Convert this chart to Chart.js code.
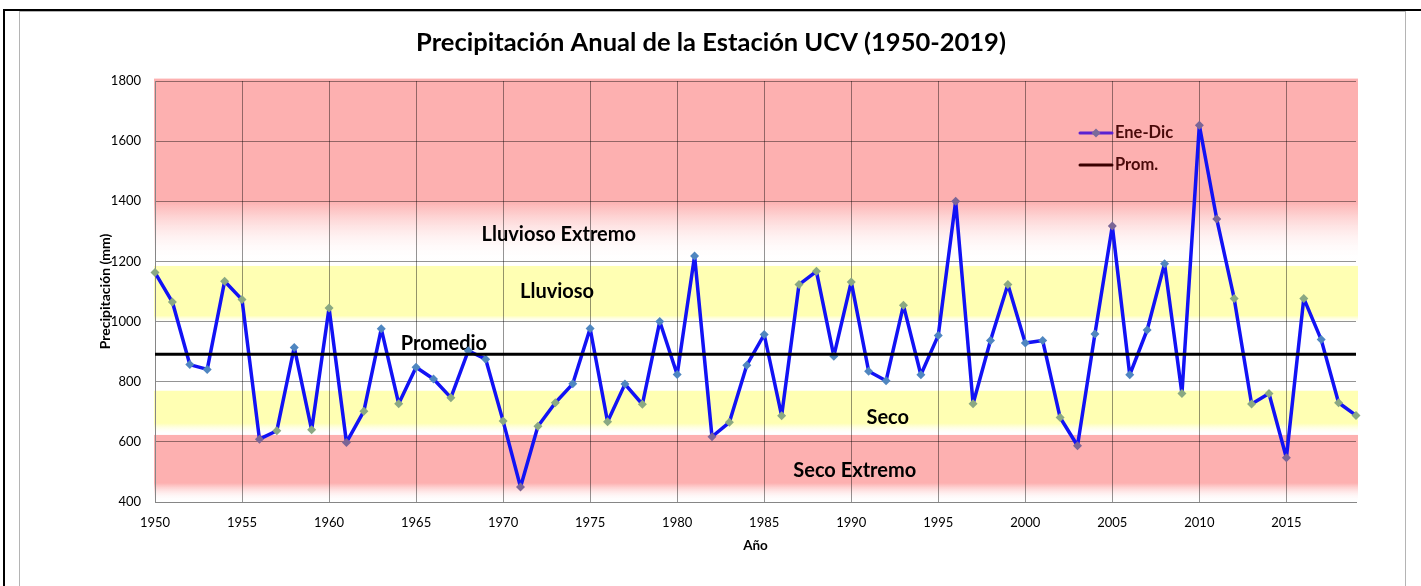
<!DOCTYPE html>
<html>
<head>
<meta charset="utf-8">
<script src="https://cdn.jsdelivr.net/npm/chart.js@4.4.0/dist/chart.umd.min.js"></script>
<style>
  html, body { margin:0; padding:0; background:#fff; width:1421px; height:586px; overflow:hidden; }
  #outer { position:absolute; left:3px; top:9px; right:-10px; bottom:-10px; border-top:2px solid #000; border-left:2px solid #000; }
  #frame { position:absolute; left:19px; top:11px; width:1385px; bottom:-10px; border:1px solid #b4b4b4; }
  #chart { position:absolute; left:0; top:0; }
</style>
</head>
<body>
<div id="outer"></div>
<div id="frame"></div>
<canvas id="chart" width="1421" height="586"></canvas>
<script>
const TITLE = 'Precipitación Anual de la Estación UCV (1950-2019)';
const years = [1950,1951,1952,1953,1954,1955,1956,1957,1958,1959,
               1960,1961,1962,1963,1964,1965,1966,1967,1968,1969,
               1970,1971,1972,1973,1974,1975,1976,1977,1978,1979,
               1980,1981,1982,1983,1984,1985,1986,1987,1988,1989,
               1990,1991,1992,1993,1994,1995,1996,1997,1998,1999,
               2000,2001,2002,2003,2004,2005,2006,2007,2008,2009,
               2010,2011,2012,2013,2014,2015,2016,2017,2018,2019];
const eneDic = [1163,1065,857,841,1134,1073,609,637,914,640,
                1045,598,702,976,727,848,809,747,903,875,
                669,450,652,730,793,977,667,792,725,1000,
                824,1218,617,665,855,957,687,1123,1167,885,
                1132,835,803,1054,823,954,1400,727,937,1123,
                929,937,681,587,959,1318,823,972,1192,761,
                1653,1341,1077,726,761,547,1077,940,730,688];
const promedio = 891;
const xTickYears = [1950,1955,1960,1965,1970,1975,1980,1985,1990,1995,2000,2005,2010,2015];
const yTickValues = [400,600,800,1000,1200,1400,1600,1800];

// bands in mm: top edge, end of solid colour, end of fade
const bandNames   = ['Lluvioso Extremo','Lluvioso','Seco','Seco Extremo'];
const bandTop     = [1808, 1185, 770, 623];
const bandSolidTo = [1400, 1020, 662, 463];
const bandBottom  = [1198, 995, 625, 400];

const RED = '#fdb0b0', YEL = '#ffffb3';
const bandColors = [RED, YEL, YEL, RED];
// label anchors (year, mm)
const bandTextAt = [[1973.2,1290],[1973.1,1101],[1992.1,682],[1990.2,506]];
const promTextAt = [1966.6,928];

const FONT = 'Lato, "Open Sans", sans-serif';

function inBand(v) {
  for (let i = 0; i < bandNames.length; i++) {
    const hi = Math.min(bandTop[i], 1800), lo = bandBottom[i] + (bandSolidTo[i] - bandBottom[i]) * 0.3;
    if (v <= hi && v >= lo) return i;
  }
  return -1;
}
const pointColor = ctx => {
  const b = inBand(ctx.raw && ctx.raw.y != null ? ctx.raw.y : 0);
  if (b === 0 || b === 3) return '#7a6596';
  if (b === 1 || b === 2) return '#8aa883';
  return '#4f86c0';
};

const bandsPlugin = {
  id: 'bands',
  beforeDraw(chart) {
    const {ctx, chartArea:a, scales:{y}} = chart;
    ctx.save();
    bandNames.forEach((n, i) => {
      const y0 = y.getPixelForValue(bandTop[i]);
      const y1 = y.getPixelForValue(bandSolidTo[i]);
      const y2 = y.getPixelForValue(bandBottom[i]);
      const g = ctx.createLinearGradient(0, y0, 0, y2);
      g.addColorStop(0, bandColors[i]);
      g.addColorStop((y1 - y0) / (y2 - y0), bandColors[i]);
      g.addColorStop(1, 'rgba(255,255,255,0)');
      ctx.fillStyle = g;
      ctx.fillRect(a.left - 1, y0, a.right - a.left + 3, y2 - y0);
    });
    // title
    ctx.fillStyle = '#000';
    ctx.font = 'bold 25.5px ' + FONT;
    ctx.textAlign = 'center';
    ctx.textBaseline = 'middle';
    ctx.fillText(TITLE, 711, 43);
    ctx.restore();
  },
  beforeDatasetsDraw(chart) {
    const {ctx, scales:{x, y}} = chart;
    ctx.save();
    ctx.fillStyle = '#000';
    ctx.font = 'bold 20px ' + FONT;
    ctx.textAlign = 'center';
    ctx.textBaseline = 'middle';
    bandNames.forEach((n, i) => {
      ctx.fillText(n, x.getPixelForValue(bandTextAt[i][0]), y.getPixelForValue(bandTextAt[i][1]));
    });
    ctx.fillText('Promedio', x.getPixelForValue(promTextAt[0]), y.getPixelForValue(promTextAt[1]));
    ctx.restore();
  },
  afterDraw(chart) {
    const {ctx, chartArea:a} = chart;
    const lx = a.right - 276, ly = a.top + 52;
    ctx.save();
    ctx.lineCap = 'round';
    // Ene-Dic
    ctx.strokeStyle = '#5a22d2'; ctx.lineWidth = 3;
    ctx.beginPath(); ctx.moveTo(lx, ly); ctx.lineTo(lx + 32, ly); ctx.stroke();
    ctx.fillStyle = '#7a6a9a';
    ctx.beginPath();
    ctx.moveTo(lx + 16, ly - 4.5); ctx.lineTo(lx + 20.5, ly); ctx.lineTo(lx + 16, ly + 4.5); ctx.lineTo(lx + 11.5, ly);
    ctx.closePath(); ctx.fill();
    // Prom.
    ctx.strokeStyle = '#3a0000'; ctx.lineWidth = 3;
    ctx.beginPath(); ctx.moveTo(lx, ly + 32); ctx.lineTo(lx + 32, ly + 32); ctx.stroke();
    ctx.fillStyle = '#4a0a0a';
    ctx.font = 'bold 16.5px ' + FONT;
    ctx.textBaseline = 'middle';
    ctx.fillText('Ene-Dic', lx + 35, ly);
    ctx.fillText('Prom.', lx + 35, ly + 32);
    ctx.restore();
  }
};

const gridColor = 'rgba(0,0,0,0.42)';

new Chart(document.getElementById('chart').getContext('2d'), {
  type: 'line',
  data: {
    datasets: [
      {
        label: 'Ene-Dic',
        data: years.map((yr, i) => ({x: yr, y: eneDic[i]})),
        borderColor: '#1212f5', borderWidth: 3.5, tension: 0, borderJoinStyle: 'round',
        pointStyle: 'rectRot', pointRadius: 4.5, pointBorderWidth: 0,
        pointBackgroundColor: pointColor,
        clip: false, order: 1
      },
      {
        label: 'Prom.',
        data: [{x: years[0], y: promedio}, {x: years[years.length - 1], y: promedio}],
        borderColor: '#000', borderWidth: 3, pointRadius: 0, order: 0
      }
    ]
  },
  options: {
    responsive: false, animation: false, devicePixelRatio: 1,
    layout: { padding: { left: 20, right: 65, top: 81, bottom: 0 } },
    plugins: {
      legend: { display: false },
      tooltip: { enabled: false },
      title: { display: false }
    },
    scales: {
      x: {
        type: 'linear', min: 1950, max: 2019,
        afterBuildTicks: s => { s.ticks = xTickYears.map(v => ({value: v})); },
        afterFit: s => { s.height = 84; },
        ticks: { color: '#000', font: { family: FONT, size: 13 }, padding: 13, callback: v => String(v) },
        grid: { color: gridColor, drawTicks: false },
        border: { color: '#868686' },
        title: { display: true, text: 'Año', color: '#000', font: { family: FONT, size: 13.5, weight: 'bold' }, padding: { top: 0, bottom: 32 } }
      },
      y: {
        min: 400, max: 1800,
        afterBuildTicks: s => { s.ticks = yTickValues.map(v => ({value: v})); },
        afterFit: s => { s.width = 135; },
        ticks: { color: '#000', font: { family: FONT, size: 13 }, padding: 14, callback: v => String(v) },
        grid: { color: gridColor, drawTicks: false },
        border: { color: '#868686' },
        title: { display: true, text: 'Precipitación (mm)', color: '#000', font: { family: FONT, size: 14, weight: 'bold' }, padding: { top: 77, bottom: 0 } }
      }
    }
  },
  plugins: [bandsPlugin]
});
</script>
</body>
</html>
